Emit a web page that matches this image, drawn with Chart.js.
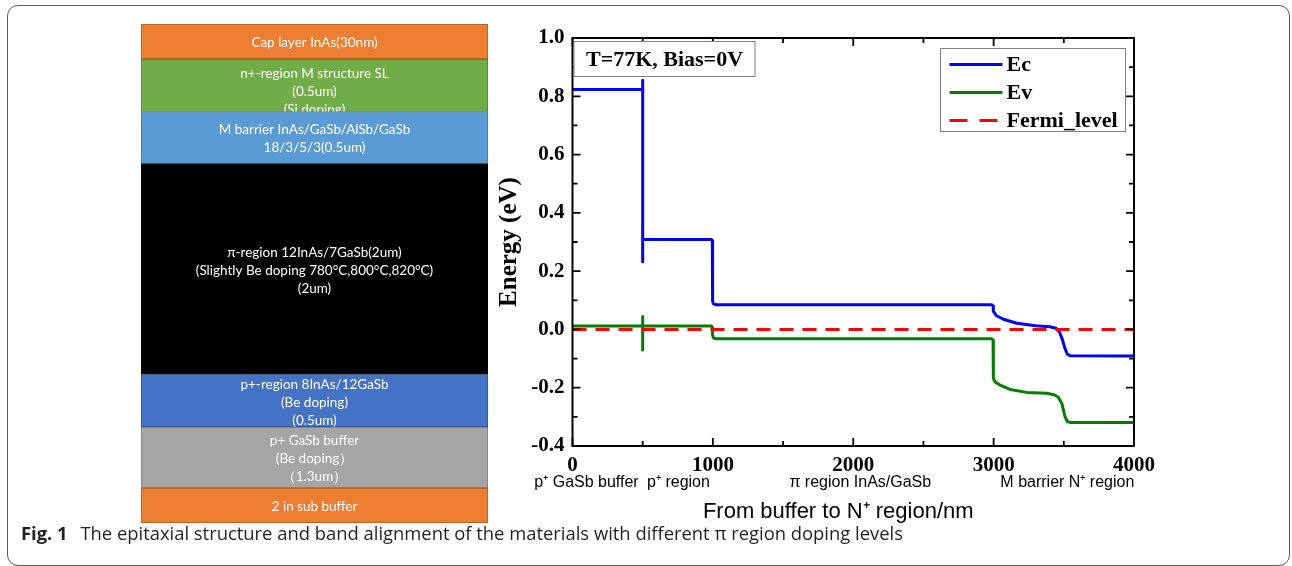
<!DOCTYPE html>
<html>
<head>
<meta charset="utf-8">
<script src="https://cdn.jsdelivr.net/npm/chart.js@4.4.1/dist/chart.umd.min.js"></script>
<style>
  html, body { margin: 0; padding: 0; background: #fff; width: 1292px; height: 566px; overflow: hidden; }
  #frame { position: absolute; left: 7px; top: 5px; width: 1283px; height: 561px; box-sizing: border-box;
           border: 1.5px solid #5a5a5a; border-radius: 11px; }
  #stack-wrap { position: absolute; left: 141px; top: 24px; width: 347px; height: 499px; }
  #band-wrap { position: absolute; left: 490px; top: 10px; width: 700px; height: 520px; }
  #caption { position: absolute; left: 21px; top: 520px; font-family: 'Open Sans', sans-serif; font-size: 18.4px;
             color: #231f20; white-space: nowrap; }
  #caption b { font-weight: 700; margin-right: 8px; }
</style>
</head>
<body>
<div id="frame"></div>
<div id="stack-wrap"><canvas id="chart-stack"></canvas></div>
<div id="band-wrap"><canvas id="chart-band"></canvas></div>
<div id="caption"><b>Fig. 1</b> The epitaxial structure and band alignment of the materials with different π region doping levels</div>

<script>
// --- Struktur epitaksi (kiri), urutan dari bawah ke atas ---
const layerNames = ['2 in sub buffer', 'p+ GaSb buffer', 'p+-region', 'π-region', 'M barrier', 'n+-region', 'Cap layer'];
const layerHeights = [35, 61, 52.5, 211, 52, 52.5, 35];
const layerText = [
  ['2 in sub buffer'],
  ['p+ GaSb buffer', '(Be doping）', '（1.3um）'],
  ['p+-region 8InAs/12GaSb', '(Be doping)', '(0.5um)'],
  ['π-region 12InAs/7GaSb(2um)', '(Slightly Be doping 780°C,800°C,820°C)', '(2um)'],
  ['M barrier InAs/GaSb/AlSb/GaSb', '18/3/5/3(0.5um)'],
  ['n+-region M structure SL', '(0.5um)', '(Si doping)'],
  ['Cap layer InAs(30nm)']
];
const layerColors = ['#ED7D31', '#A5A5A5', '#4472C4', '#000000', '#5B9BD5', '#70AD47', '#ED7D31'];
const layerBorders = ['#AE5A21', '#787878', '#2F528F', '#000000', '#41719C', '#507E32', '#AE5A21'];
// teks lapisan ini meluap di aslinya, jadi ditaruh dari atas dan terpotong
const topAnchored = ['n+-region'];

// --- Diagram pita energi (kanan) ---
const ecX = [0, 500, 500, 500, 500, 990, 996, 998, 1004, 1020, 2985, 2997, 2998, 3020, 3070, 3165, 3300, 3400, 3445, 3470, 3490, 3508, 3525, 3545, 4000];
const ecY = [0.823, 0.823, 0.855, 0.232, 0.309, 0.309, 0.305, 0.097, 0.088, 0.085, 0.085, 0.080, 0.062, 0.047, 0.035, 0.021, 0.013, 0.009, 0.004, -0.010, -0.035, -0.065, -0.085, -0.090, -0.091];
const evX = [0, 500, 500, 500, 500, 990, 996, 998, 1004, 1020, 2985, 2996, 2998, 3010, 3046, 3117, 3236, 3379, 3430, 3460, 3486, 3509, 3525, 3545, 4000];
const evY = [0.012, 0.012, 0.044, -0.071, 0.012, 0.012, 0.007, -0.020, -0.029, -0.032, -0.032, -0.036, -0.168, -0.180, -0.191, -0.206, -0.216, -0.219, -0.224, -0.232, -0.254, -0.300, -0.316, -0.319, -0.319];
const fermiX = [0, 4000];
const fermiY = [0, 0];

const seriesNames = ['Ec', 'Ev', 'Fermi_level'];
const xTickValues = [0, 1000, 2000, 3000, 4000];
const xMinorValues = [500, 1500, 2500, 3500];
const yTickValues = [-0.4, -0.2, 0, 0.2, 0.4, 0.6, 0.8, 1.0];
const yMinorValues = [-0.3, -0.1, 0.1, 0.3, 0.5, 0.7, 0.9];
const regionLabels = ['p⁺ GaSb buffer', 'p⁺ region', 'π region InAs/GaSb', 'M barrier N⁺ region'];
const regionCenters = [100, 755, 2050, 3525];
const noteText = 'T=77K, Bias=0V';
const xTitle = 'From buffer to N⁺ region/nm';
const yTitle = 'Energy (eV)';

const serif = '"Liberation Serif", "Times New Roman", serif';
const sans = '"Liberation Sans", Arial, sans-serif';

function toPoints(xs, ys) {
  return xs.map((x, i) => ({ x: x, y: ys[i] }));
}

// Tulisan di dalam tiap lapisan
const layerTextPlugin = {
  id: 'layerText',
  afterDatasetsDraw(chart) {
    const ctx = chart.ctx;
    const lineH = 18;
    ctx.save();
    ctx.font = '13.5px Lato, "Open Sans", sans-serif';
    ctx.fillStyle = '#fff';
    ctx.textAlign = 'center';
    ctx.textBaseline = 'middle';
    chart.data.datasets.forEach((ds, i) => {
      const bar = chart.getDatasetMeta(i).data[0];
      const top = Math.min(bar.y, bar.base), bottom = Math.max(bar.y, bar.base);
      const lines = layerText[i];
      const blockH = lines.length * lineH;
      let y0 = (top + bottom) / 2 - blockH / 2 + lineH / 2 + 1.5;
      if (topAnchored.includes(ds.label)) y0 = top + 6 + lineH / 2;
      ctx.save();
      ctx.beginPath();
      ctx.rect(bar.x - bar.width / 2, top, bar.width, bottom - top);
      ctx.clip();
      lines.forEach((t, k) => ctx.fillText(t, bar.x, y0 + k * lineH));
      ctx.restore();
    });
    ctx.restore();
  }
};

new Chart(document.getElementById('chart-stack'), {
  type: 'bar',
  data: {
    labels: ['layers'],
    datasets: layerNames.map((n, i) => ({
      label: n,
      data: [layerHeights[i]],
      backgroundColor: layerColors[i],
      borderColor: layerBorders[i],
      borderWidth: 1,
      borderSkipped: false,
      barPercentage: 1,
      categoryPercentage: 1
    }))
  },
  options: {
    responsive: true,
    maintainAspectRatio: false,
    animation: false,
    events: [],
    layout: { padding: 0 },
    plugins: { legend: { display: false }, tooltip: { enabled: false } },
    scales: {
      x: { stacked: true, display: false },
      y: { stacked: true, display: false, min: 0, max: layerHeights.reduce((a, b) => a + b, 0) }
    }
  },
  plugins: [layerTextPlugin]
});

// Bingkai, tick ke dalam, legenda, catatan dan label daerah
const bandDecorPlugin = {
  id: 'bandDecor',
  afterDatasetsDraw(chart) {
    const { ctx, chartArea: a, scales: { x, y } } = chart;
    ctx.save();
    ctx.strokeStyle = '#000';
    ctx.lineWidth = 2;
    ctx.strokeRect(a.left, a.top, a.right - a.left, a.bottom - a.top);

    ctx.lineWidth = 1.8;
    ctx.beginPath();
    const xt = (vals, len) => vals.forEach(v => {
      const px = x.getPixelForValue(v);
      ctx.moveTo(px, a.bottom); ctx.lineTo(px, a.bottom - len);
      ctx.moveTo(px, a.top); ctx.lineTo(px, a.top + len);
    });
    const yt = (vals, len) => vals.forEach(v => {
      const py = y.getPixelForValue(v);
      ctx.moveTo(a.left, py); ctx.lineTo(a.left + len, py);
      ctx.moveTo(a.right, py); ctx.lineTo(a.right - len, py);
    });
    xt(xTickValues, 8); xt(xMinorValues, 5);
    yt(yTickValues, 8); yt(yMinorValues, 5);
    ctx.stroke();

    // kotak catatan
    ctx.fillStyle = '#fff';
    ctx.strokeStyle = '#808080';
    ctx.lineWidth = 1;
    ctx.fillRect(a.left + 1.5, a.top + 3.5, 181, 35);
    ctx.strokeRect(a.left + 1.5, a.top + 3.5, 181, 35);
    ctx.fillStyle = '#000';
    ctx.font = 'bold 22px ' + serif;
    ctx.textAlign = 'center';
    ctx.textBaseline = 'middle';
    ctx.fillText(noteText, a.left + 92, a.top + 22);

    // legenda
    const lx = a.right - 193.5, ly = a.top + 10.5;
    ctx.fillStyle = '#fff';
    ctx.fillRect(lx, ly, 185, 83);
    ctx.strokeStyle = '#808080';
    ctx.strokeRect(lx, ly, 185, 83);
    ctx.textAlign = 'left';
    chart.data.datasets.forEach((ds, i) => {
      const ry = ly + 16 + i * 28;
      ctx.strokeStyle = ds.borderColor;
      ctx.lineWidth = 3;
      ctx.setLineDash(ds.borderDash && ds.borderDash.length ? [18, 12] : []);
      ctx.beginPath();
      ctx.moveTo(lx + 9, ry); ctx.lineTo(lx + 62, ry);
      ctx.stroke();
      ctx.setLineDash([]);
      ctx.fillStyle = '#000';
      ctx.fillText(ds.label, lx + 66, ry + 1);
    });

    // label daerah dan judul sumbu x
    ctx.font = '16px ' + sans;
    ctx.fillStyle = '#000';
    ctx.textAlign = 'center';
    regionLabels.forEach((t, i) => ctx.fillText(t, x.getPixelForValue(regionCenters[i]), a.bottom + 37));
    ctx.font = '22px ' + sans;
    ctx.fillText(xTitle, (a.left + a.right) / 2 - 15, a.bottom + 66);
    ctx.restore();
  }
};

new Chart(document.getElementById('chart-band'), {
  type: 'line',
  data: {
    datasets: [
      { label: seriesNames[0], data: toPoints(ecX, ecY), borderColor: '#0000FF', order: 2 },
      { label: seriesNames[1], data: toPoints(evX, evY), borderColor: '#008000', order: 3 },
      { label: seriesNames[2], data: toPoints(fermiX, fermiY), borderColor: '#FF0000', borderDash: [14, 9], order: 1 }
    ].map(d => Object.assign({ borderWidth: 3, pointRadius: 0, tension: 0, fill: false, borderJoinStyle: 'round' }, d))
  },
  options: {
    responsive: true,
    maintainAspectRatio: false,
    animation: false,
    events: [],
    layout: { padding: { top: 28, right: 56, left: 0, bottom: 0 } },
    plugins: { legend: { display: false }, tooltip: { enabled: false } },
    scales: {
      x: {
        type: 'linear', min: 0, max: 4000,
        afterBuildTicks: s => { s.ticks = xTickValues.map(v => ({ value: v })); },
        afterFit: s => { s.height = 84; },
        grid: { display: false, drawTicks: false },
        border: { display: false },
        ticks: { autoSkip: false, maxRotation: 0, padding: 7, color: '#000',
                 font: { family: serif, size: 21, weight: 'bold' },
                 callback: v => String(v) }
      },
      y: {
        type: 'linear', min: -0.4, max: 1.0,
        afterBuildTicks: s => { s.ticks = yTickValues.map(v => ({ value: v })); },
        afterFit: s => { s.width = 82.5; },
        grid: { display: false, drawTicks: false },
        border: { display: false },
        ticks: { padding: 8, color: '#000',
                 font: { family: serif, size: 21, weight: 'bold' },
                 callback: v => (Math.abs(v) < 1e-9 ? 0 : v).toFixed(1) },
        title: { display: true, text: yTitle, color: '#000', padding: { top: 5, bottom: 0 },
                 font: { family: serif, size: 25, weight: 'bold' } }
      }
    }
  },
  plugins: [bandDecorPlugin]
});
</script>
</body>
</html>
